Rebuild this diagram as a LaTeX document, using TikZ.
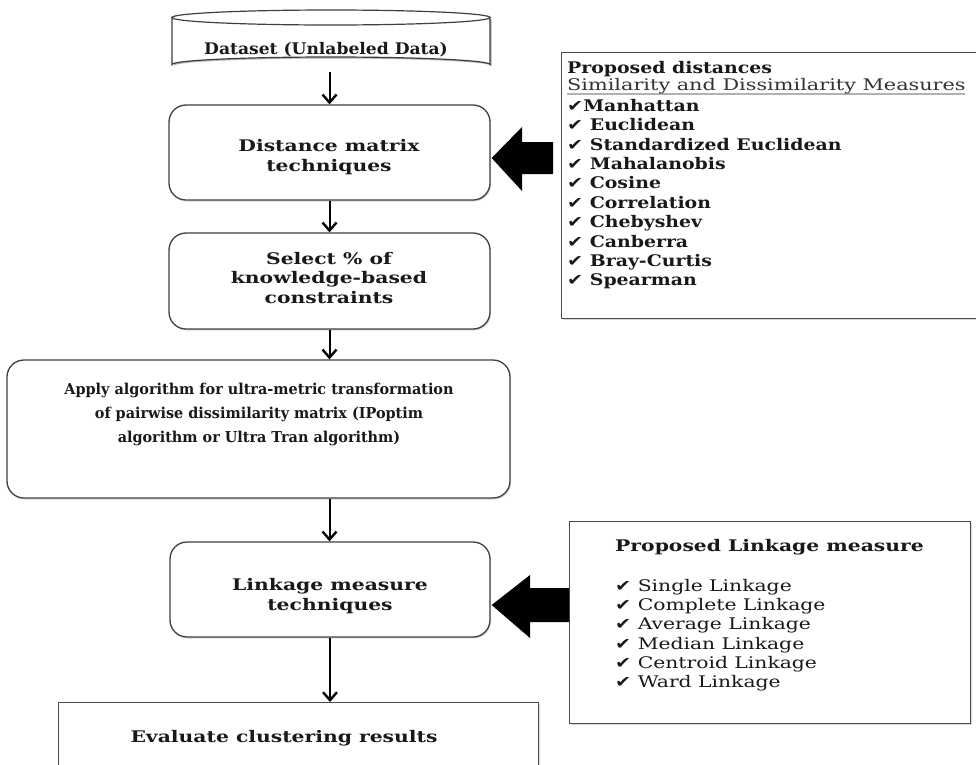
\documentclass[tikz,border=0pt]{standalone}
\usepackage{fontspec}
\setmainfont{DejaVu Serif}
% widened and narrowed cuts of the same serif
\newfontfamily\wideface{DejaVu Serif}[FakeStretch=1.27]
\newfontfamily\listface{DejaVu Serif}[FakeStretch=1.18]
\newfontfamily\subface{DejaVu Serif}[FakeStretch=1.30]
\newfontfamily\dataface{DejaVu Serif}[FakeStretch=1.07]
\newfontfamily\narrowface{DejaVu Serif}[FakeStretch=0.96]
\newfontfamily\symfont{DejaVu Sans}[FakeStretch=1.2]
\usetikzlibrary{arrows.meta,calc,shadows}

\newcommand\chk{{\symfont\char"2714}}

\tikzset{
  txt/.style={font=\wideface\bfseries\fontsize{16}{19.5}\selectfont, align=center, inner sep=0pt, text=black!90},
  shade/.style={drop shadow={shadow xshift=1pt, shadow yshift=-1.5pt, opacity=0.3}},
  procbox/.style={draw=black!75, line width=1.3pt, rounded corners=17pt, fill=white, inner sep=0pt, shade},
  plainbox/.style={draw=black!70, line width=1.2pt, fill=white, inner sep=0pt, shade},
  flow/.style={-{Straight Barb[length=8pt,width=14pt,line width=2.4pt]}, line width=2pt},
  bigarrow/.style={fill=black},
  listline/.style={anchor=base west, inner sep=0pt, text=black!90, font=\listface\bfseries\fontsize{16}{19.5}\selectfont},
  linkline/.style={anchor=base west, inner sep=0pt, text=black!90, font=\wideface\fontsize{16}{19.5}\selectfont},
}

\begin{document}
\begin{tikzpicture}[x=1pt,y=-1pt]
\useasboundingbox (0,0) rectangle (976,764);
\clip (0,0) rectangle (976,764);
\fill[white] (0,0) rectangle (976,764);

% dataset cylinder
\node[inner sep=0pt, minimum width=318pt, minimum height=62pt] (data) at (331,41) {};
\fill[black!30] (173.5,19) -- (173.5,66) arc[start angle=180, end angle=360, x radius=159, y radius=7.5] -- (491.5,19) -- cycle;
\draw[draw=black!75, line width=1.2pt, fill=white]
  (172,17.5) -- (172,64.5) arc[start angle=180, end angle=360, x radius=159, y radius=7.5]
  -- (490,17.5);
\draw[draw=black!75, line width=1.2pt, fill=white] (331,17.5) ellipse[x radius=159, y radius=7.5];
\node[txt, font=\dataface\bfseries\fontsize{16}{19.5}\selectfont] (datatext) at (326,50) {Dataset (Unlabeled Data)};

% main process column
\node[procbox, minimum width=321pt, minimum height=95pt] (dist) at (329.5,152.5) {};
\node[txt] (disttext) at (329,157) {Distance matrix\\techniques};

\node[procbox, minimum width=321pt, minimum height=96pt] (sel) at (329.5,281) {};
\node[txt] (seltext) at (329,278) {Select \% of\\knowledge-based\\constraints};

\node[procbox, minimum width=503pt, minimum height=138pt] (alg) at (258.5,429) {};
\node[txt, font=\narrowface\bfseries\fontsize{15}{24}\selectfont] (algtext) at (259,414)
  {Apply algorithm for ultra-metric transformation\\of pairwise dissimilarity matrix (IPoptim\\algorithm or Ultra Tran algorithm)};

\node[procbox, minimum width=320pt, minimum height=95pt] (link) at (330,589.5) {};
\node[txt] (linktext) at (330,596) {Linkage measure\\techniques};

\node[plainbox, minimum width=480pt, minimum height=100pt, anchor=north west] (eval) at (58,702) {};
\node[txt] (evaltext) at (284,738) {Evaluate clustering results};

% panel of distance measures
\node[plainbox, minimum width=430pt, minimum height=266pt, anchor=north west] (dpanel) at (561,52) {};
\draw[black!30, line width=1.6pt] (567,94) -- (965,94);
\node[listline] (dhead) at (567,73.3) {Proposed distances};
\node[listline, font=\subface\fontsize{16}{19.5}\selectfont, text=black!80] (dsub) at (567,90) {Similarity and Dissimilarity Measures};
\node[listline] (d0) at (567,111.3) {\chk Manhattan};
\foreach \t [count=\i] in {Euclidean, Standardized Euclidean, Mahalanobis, Cosine,
    Correlation, Chebyshev, Canberra, Bray-Curtis, Spearman}
  \node[listline] (d\i) at (567,{111.3+19.4*\i}) {\chk\ \t};

% panel of linkage measures
\node[plainbox, minimum width=401pt, minimum height=202pt, anchor=north west] (lpanel) at (569,521) {};
\node[linkline, font=\wideface\bfseries\fontsize{16}{19.5}\selectfont] (lhead) at (615,551.7) {Proposed Linkage measure};
\foreach \t [count=\i] in {Single Linkage, Complete Linkage, Average Linkage,
    Median Linkage, Centroid Linkage, Ward Linkage}
  \node[linkline] (l\i) at (615,{572.6+19.1*\i}) {\chk\ \t};

% flow arrows
\draw[flow] (data.south -| dist.north) -- (dist.north);
\draw[flow] (dist.south) -- (sel.north);
\draw[flow] (sel.south) -- (sel.south |- alg.north);
\draw[flow] (sel.south |- alg.south) -- (link.north -| sel.south);
\draw[flow] (link.south) -- (link.south |- eval.north);

% block arrows from the panels
\fill[bigarrow] ($(dist.east)+(1,5.5)$) -- (522,127) -- (522,142) -- (553,142)
  -- (553,174) -- (522,174) -- (522,191) -- cycle;
\fill[bigarrow] ($(link.east)+(1,15.5)$) -- (530,575) -- (530,588) -- (lpanel.west |- 0,588)
  -- (lpanel.west |- 0,622) -- (530,622) -- (530,638) -- cycle;
\end{tikzpicture}
\end{document}
